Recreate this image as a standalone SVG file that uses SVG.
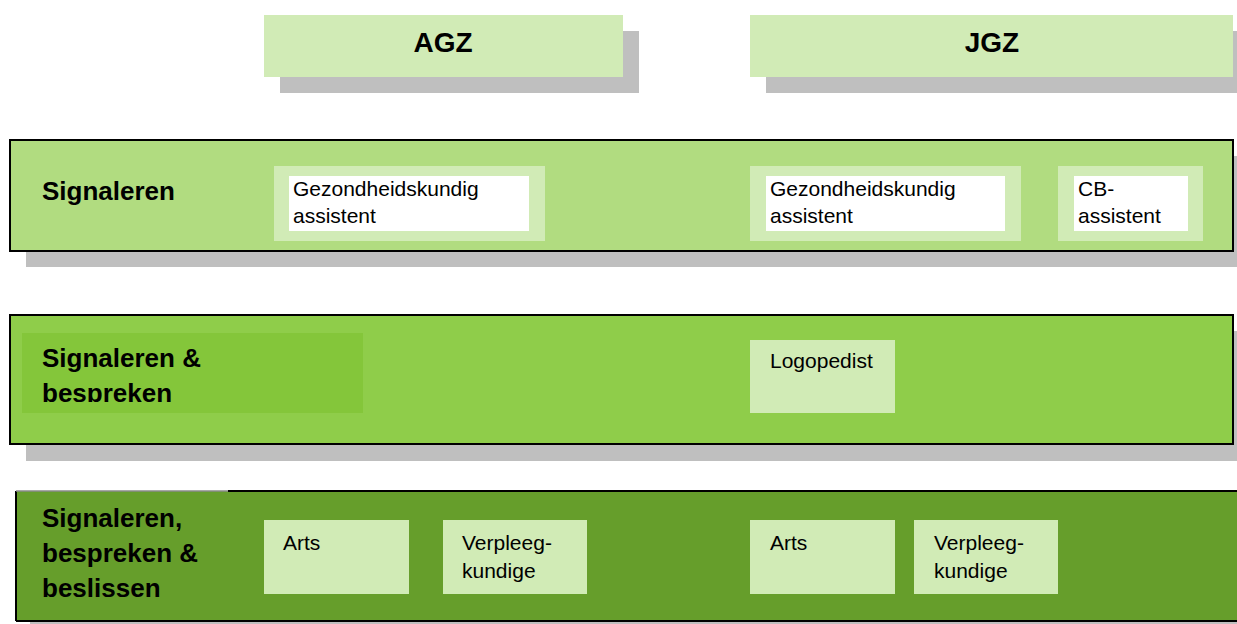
<svg xmlns="http://www.w3.org/2000/svg" width="1237" height="624" viewBox="0 0 1237 624">
<style>
.shadow{fill:#bfbfbf}
.light{fill:#d1ebb6}
.white{fill:#ffffff}
.band{stroke:#000;stroke-width:2}
.t{font-family:"Liberation Sans",Arial,sans-serif;font-size:21px;fill:#000}
.b{font-family:"Liberation Sans",Arial,sans-serif;font-size:26px;font-weight:bold;fill:#000}
.h{font-family:"Liberation Sans",Arial,sans-serif;font-size:28px;font-weight:bold;fill:#000}
</style>
<defs>
<clipPath id="clipLabel2"><rect x="22" y="333" width="341" height="69"/></clipPath>
</defs>
<rect width="1237" height="624" fill="#fff"/>

<g id="agz">
<rect class="shadow" x="280" y="31" width="359" height="62"/>
<rect class="light" x="264" y="15" width="359" height="62"/>
<text class="h" x="443" y="52" text-anchor="middle">AGZ</text>
</g>
<g id="jgz">
<rect class="shadow" x="766" y="31" width="471" height="62"/>
<rect class="light" x="750" y="15" width="483" height="62"/>
<text class="h" x="992" y="52" text-anchor="middle">JGZ</text>
</g>

<g id="band-signaleren">
<rect class="shadow" x="26" y="156" width="1211" height="111"/>
<rect class="band" x="10" y="140" width="1223" height="111" fill="#b1dc80"/>
<text class="b" x="42" y="200">Signaleren</text>
</g>
<g id="agz-gezondheidskundig">
<rect class="light" x="274" y="166" width="271" height="75"/>
<rect class="white" x="289" y="176" width="240" height="55"/>
<text class="t" x="293" y="196">Gezondheidskundig</text>
<text class="t" x="293" y="223">assistent</text>
</g>
<g id="jgz-gezondheidskundig">
<rect class="light" x="750" y="166" width="271" height="75"/>
<rect class="white" x="766" y="176" width="239" height="55"/>
<text class="t" x="770" y="196">Gezondheidskundig</text>
<text class="t" x="770" y="223">assistent</text>
</g>
<g id="jgz-cb-assistent">
<rect class="light" x="1058" y="166" width="145" height="75"/>
<rect class="white" x="1074" y="176" width="114" height="55"/>
<text class="t" x="1078" y="196">CB-</text>
<text class="t" x="1078" y="223">assistent</text>
</g>

<g id="band-signaleren-bespreken">
<rect class="shadow" x="26" y="331" width="1211" height="130"/>
<rect class="band" x="10" y="315" width="1223" height="129" fill="#8fcd4a"/>
<rect x="22" y="333" width="341" height="80" fill="#84c63a"/>
<g clip-path="url(#clipLabel2)">
<text class="b" x="42" y="367">Signaleren &amp;</text>
<text class="b" x="42" y="402">bespreken</text>
</g>
</g>
<g id="jgz-logopedist">
<rect class="light" x="750" y="340" width="145" height="73"/>
<text class="t" x="770" y="368">Logopedist</text>
</g>

<g id="band-signaleren-bespreken-beslissen">
<rect class="shadow" x="30" y="494" width="1207" height="130"/>
<rect x="16" y="491" width="1222" height="130" fill="#669e2b"/>
<path d="M16 621 V491" stroke="#000" stroke-width="2" fill="none"/>
<path d="M16 491 H228" stroke="#8a8a8a" stroke-width="1.5" fill="none"/>
<path d="M228 491 H1237" stroke="#000" stroke-width="2" fill="none"/>
<path d="M16 621 H1237" stroke="#000" stroke-width="2" fill="none"/>
<text class="b" x="42" y="527">Signaleren,</text>
<text class="b" x="42" y="562">bespreken &amp;</text>
<text class="b" x="42" y="597">beslissen</text>
</g>
<g id="agz-arts">
<rect class="light" x="264" y="520" width="145" height="74"/>
<text class="t" x="283" y="550">Arts</text>
</g>
<g id="agz-verpleegkundige">
<rect class="light" x="443" y="520" width="144" height="74"/>
<text class="t" x="462" y="550">Verpleeg-</text>
<text class="t" x="462" y="578">kundige</text>
</g>
<g id="jgz-arts">
<rect class="light" x="750" y="520" width="145" height="74"/>
<text class="t" x="770" y="550">Arts</text>
</g>
<g id="jgz-verpleegkundige">
<rect class="light" x="914" y="520" width="144" height="74"/>
<text class="t" x="934" y="550">Verpleeg-</text>
<text class="t" x="934" y="578">kundige</text>
</g>
<g id="connectors"/>
</svg>
